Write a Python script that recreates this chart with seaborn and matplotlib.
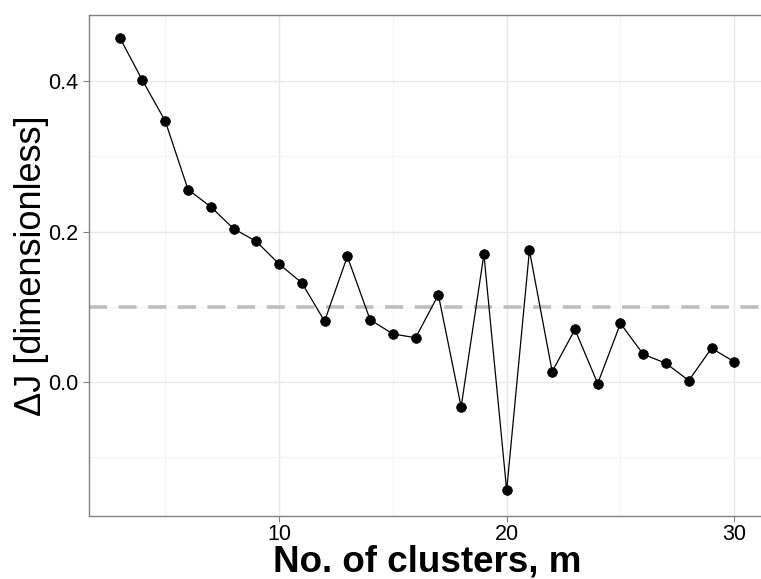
import matplotlib
matplotlib.use("Agg")
import matplotlib.pyplot as plt
from matplotlib.ticker import MultipleLocator
import seaborn as sns
import pandas as pd

sns.set_style("white")
plt.rcParams["font.family"] = ["Liberation Sans", "DejaVu Sans"]
plt.rcParams["text.color"] = "black"
plt.rcParams["axes.labelcolor"] = "black"

# number of clusters and the change in the objective J
clusters = [3, 4, 5, 6, 7, 8, 9, 10, 11, 12, 13, 14, 15, 16,
            17, 18, 19, 20, 21, 22, 23, 24, 25, 26, 27, 28, 29, 30]
delta_j = [0.458, 0.401, 0.347, 0.256, 0.233, 0.204, 0.187, 0.157,
           0.132, 0.081, 0.167, 0.083, 0.064, 0.059, 0.116, -0.033,
           0.170, -0.144, 0.175, 0.014, 0.070, -0.002, 0.078, 0.037,
           0.025, 0.002, 0.045, 0.027]
threshold = 0.1
x_ticks = [10, 20, 30]
y_ticks = [0.0, 0.2, 0.4]

df = pd.DataFrame({"m": clusters, "dJ": delta_j})

fig = plt.figure(figsize=(7.61, 5.79), dpi=100)
ax = fig.add_axes([89 / 761, 1 - 516 / 579, (765 - 89) / 761, (516 - 15) / 579])

ax.axhline(threshold, color="#bebebe", linewidth=2.6, dashes=(5, 3.2), zorder=1)
sns.lineplot(data=df, x="m", y="dJ", ax=ax, color="black", linewidth=0.9,
             marker="o", markersize=7, markeredgecolor="black",
             markeredgewidth=0.5, zorder=3)

ax.set_xlim(1.65, 31.35)
ax.set_ylim(-0.178, 0.488)
ax.set_xticks(x_ticks)
ax.set_yticks(y_ticks)
ax.set_yticklabels([f"{v:.1f}" for v in y_ticks])
ax.xaxis.set_minor_locator(MultipleLocator(5))
ax.yaxis.set_minor_locator(MultipleLocator(0.1))
ax.grid(True, which="major", color="#e8e8e8", linewidth=1.0, zorder=0)
ax.grid(True, which="minor", color="#f4f4f4", linewidth=0.8, zorder=0)
ax.set_axisbelow(True)

for side in ["left", "bottom", "top"]:
    ax.spines[side].set_color("#808080")
    ax.spines[side].set_linewidth(1.0)
ax.spines["right"].set_visible(False)

ax.tick_params(axis="both", which="major", length=4, width=0.8, color="#808080",
               labelsize=15.5, labelcolor="black", direction="out",
               bottom=True, left=True)
ax.tick_params(axis="x", which="major", pad=1.5)
ax.tick_params(axis="y", which="major", pad=4)
ax.tick_params(axis="both", which="minor", length=0)

ax.set_xlabel("No. of clusters, m", fontsize=26.5, fontweight="bold",
              labelpad=0)
ax.set_ylabel("ΔJ [dimensionless]", fontsize=26, labelpad=-1)

fig.savefig("out.png", dpi=100)
